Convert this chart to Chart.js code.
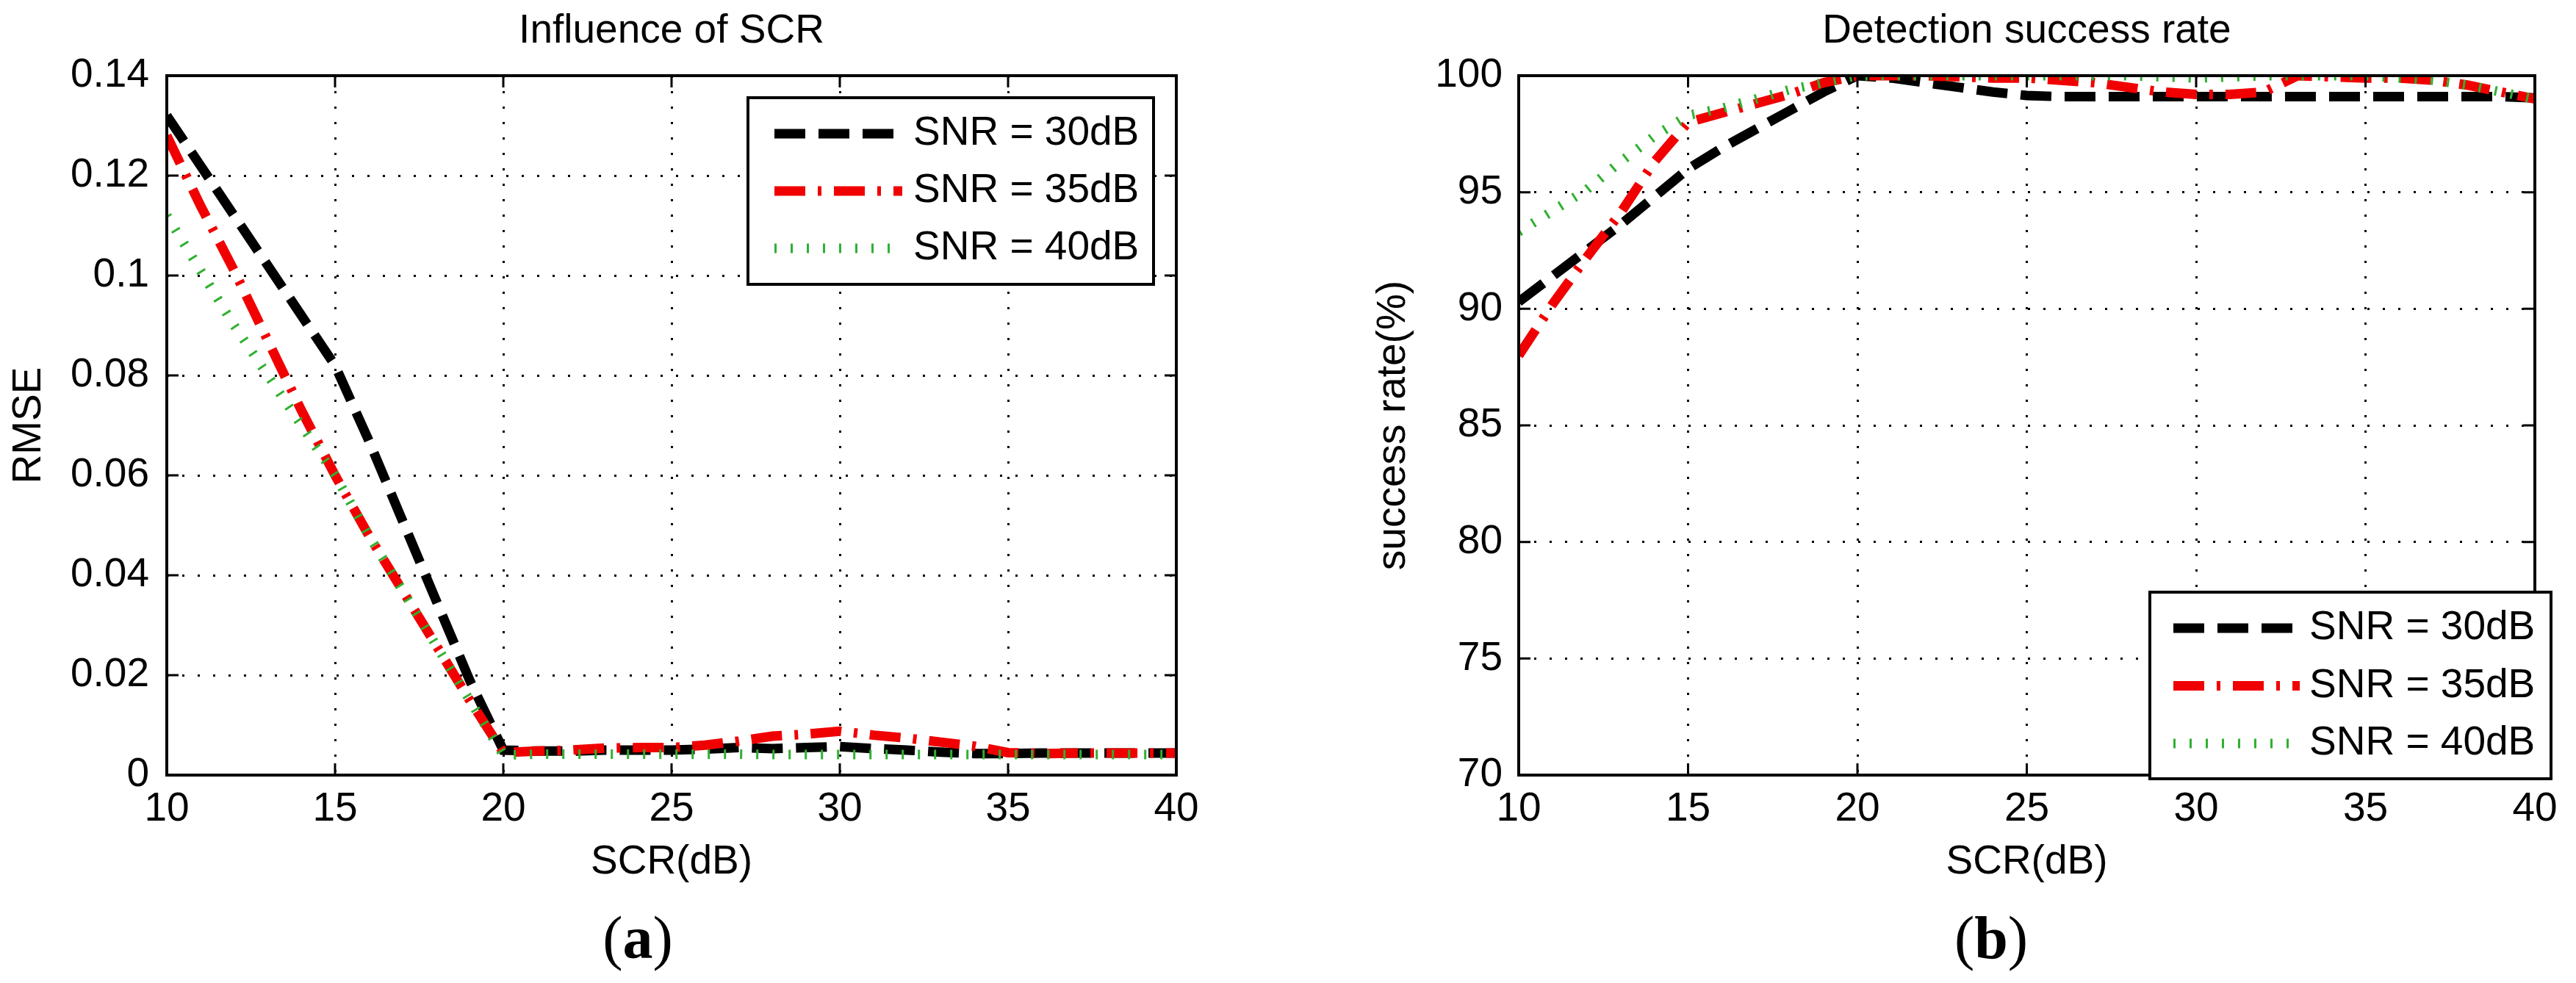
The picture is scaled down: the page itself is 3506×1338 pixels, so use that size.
<!DOCTYPE html>
<html>
<head>
<meta charset="utf-8">
<script src="https://cdn.jsdelivr.net/npm/chart.js@4.4.1/dist/chart.umd.min.js"></script>
<style>
html,body{margin:0;padding:0;background:#fff;}
#wrap{position:relative;width:3506px;height:1338px;overflow:hidden;background:#fff;}
canvas{position:absolute;top:0;}
#cA{left:0;}
#cB{left:1753px;}
.cap{position:absolute;top:1236px;font-family:"Liberation Serif","Times New Roman",serif;font-size:82px;line-height:1;transform:translateX(-50%);color:#000;white-space:nowrap;}
</style>
</head>
<body>
<div id="wrap">
<canvas id="cA" width="1753" height="1338"></canvas>
<canvas id="cB" width="1753" height="1338"></canvas>
<div class="cap" style="left:868px;">(<b>a</b>)</div>
<div class="cap" style="left:2710px;">(<b>b</b>)</div>
</div>
<script>
// ---------- data ----------
const scr = [10,11,12,13,14,15,16,17,18,19,20,21,22,23,24,25,26,27,28,29,30,31,32,33,34,35,36,37,38,39,40];
const seriesLabels = ['SNR = 30dB','SNR = 35dB','SNR = 40dB'];

const rmse30 = [0.132,0.122,0.112,0.102,0.092,0.082,0.067,0.051,0.035,0.019,0.005,
  0.0048,0.0048,0.0050,0.0050,0.0050,0.0052,0.0055,0.0053,0.0055,0.0057,0.0053,0.0050,0.0046,0.0043,0.0043,0.0044,0.0044,0.0044,0.0044,0.0044];
const rmse35 = [0.128,0.114,0.101,0.087,0.073,0.060,0.048,0.037,0.026,0.015,0.0045,
  0.0048,0.0050,0.0054,0.0055,0.0055,0.0060,0.0068,0.0078,0.0082,0.0088,0.0080,0.0074,0.0066,0.0058,0.0045,0.0043,0.0044,0.0044,0.0044,0.0044];
const rmse40 = [0.112,0.101,0.090,0.080,0.070,0.060,0.048,0.037,0.026,0.015,0.004,
  0.0042,0.0042,0.0042,0.0042,0.0042,0.0042,0.0042,0.0041,0.0041,0.0041,0.0041,0.0041,0.0041,0.0041,0.0041,0.0041,0.0041,0.0041,0.0041,0.0041];

const rate30 = [90.3,91.4,92.5,93.6,94.8,96.0,96.9,97.7,98.5,99.3,100,
  99.9,99.7,99.5,99.3,99.15,99.1,99.1,99.1,99.1,99.1,99.1,99.1,99.1,99.1,99.1,99.1,99.1,99.1,99.1,99.05];
const rate35 = [88.0,90.2,92.2,94.1,96.3,98.0,98.4,98.8,99.2,99.7,100,
  100,100,99.95,99.9,99.9,99.8,99.7,99.5,99.3,99.2,99.2,99.3,100,99.95,99.9,99.9,99.8,99.6,99.3,99.0];
const rate40 = [93.3,94.2,95.1,96.3,97.4,98.3,98.6,99.0,99.4,99.7,100,
  100,100,100,100,100,100,100,100,99.95,99.9,99.95,100,100,100,100,99.9,99.8,99.6,99.3,99.0];

const xTickLabels = ['10','15','20','25','30','35','40'];
const rmseTickLabels = ['0','0.02','0.04','0.06','0.08','0.1','0.12','0.14'];
const rateTickLabels = ['70','75','80','85','90','95','100'];

// ---------- styling ----------
const FONT = '"Liberation Sans", Arial, Helvetica, sans-serif';
const FS = 55;
Chart.defaults.font.family = FONT;
Chart.defaults.font.size = FS;
Chart.defaults.color = '#000';

const seriesStyle = [
  {color:'#000000', dash:[42,18], width:13, order:2},
  {color:'#f00000', dash:[42,17,5,17], width:13, order:1},
  {color:'#30b030', dash:[3,19], width:13, order:0}
];

function pts(ys){ return scr.map((x,i)=>({x:x, y:ys[i]})); }

function makeDatasets(list){
  return list.map((ys,i)=>({
    label: seriesLabels[i],
    data: pts(ys),
    borderColor: seriesStyle[i].color,
    backgroundColor: seriesStyle[i].color,
    borderDash: seriesStyle[i].dash,
    borderWidth: seriesStyle[i].width,
    borderCapStyle: 'butt',
    borderJoinStyle: 'miter',
    pointRadius: 0,
    pointHoverRadius: 0,
    tension: 0,
    fill: false,
    clip: 0,
    order: seriesStyle[i].order
  }));
}

const frameTicks = {
  id:'frameTicks',
  afterDatasetsDraw(chart, args, o){
    const ctx = chart.ctx, a = chart.chartArea, x = chart.scales.x, y = chart.scales.y;
    ctx.save();
    ctx.strokeStyle = '#000';
    ctx.setLineDash([]);
    ctx.lineWidth = o.tickWidth;
    ctx.beginPath();
    x.ticks.forEach(t=>{
      const px = x.getPixelForValue(t.value);
      ctx.moveTo(px, a.bottom); ctx.lineTo(px, a.bottom - o.len);
      ctx.moveTo(px, a.top); ctx.lineTo(px, a.top + o.len);
    });
    y.ticks.forEach(t=>{
      const py = y.getPixelForValue(t.value);
      ctx.moveTo(a.left, py); ctx.lineTo(a.left + o.len, py);
      ctx.moveTo(a.right, py); ctx.lineTo(a.right - o.len, py);
    });
    ctx.stroke();
    ctx.lineWidth = o.frameWidth;
    ctx.strokeRect(a.left, a.top, a.right - a.left, a.bottom - a.top);
    ctx.restore();
  }
};

const boxLegend = {
  id:'boxLegend',
  afterDraw(chart, args, o){
    const ctx = chart.ctx;
    ctx.save();
    ctx.setLineDash([]);
    ctx.fillStyle = '#fff';
    ctx.fillRect(o.left, o.top, o.width, o.height);
    ctx.lineWidth = o.border;
    ctx.strokeStyle = '#000';
    ctx.strokeRect(o.left, o.top, o.width, o.height);
    ctx.font = FS + 'px ' + FONT;
    ctx.textBaseline = 'middle';
    ctx.textAlign = 'left';
    chart.data.datasets.forEach((ds,i)=>{
      const cy = o.top + o.firstRow + i*o.rowGap;
      ctx.save();
      ctx.beginPath();
      ctx.strokeStyle = ds.borderColor;
      ctx.lineWidth = ds.borderWidth;
      ctx.lineCap = 'butt';
      ctx.setLineDash(ds.borderDash || []);
      ctx.moveTo(o.left + o.lineStart, cy);
      ctx.lineTo(o.left + o.lineEnd, cy);
      ctx.stroke();
      ctx.restore();
      ctx.fillStyle = '#000';
      ctx.fillText(ds.label, o.left + o.textStart, cy);
    });
    ctx.restore();
  }
};

function makeChart(id, cfg){
  return new Chart(document.getElementById(id), {
    type:'line',
    data:{ datasets: makeDatasets(cfg.series) },
    plugins:[frameTicks, boxLegend],
    options:{
      responsive:false,
      devicePixelRatio:1,
      animation:false,
      events:[],
      layout:{ padding:{ left:0, top:0, right:cfg.padRight, bottom:131 } },
      plugins:{
        legend:{ display:false },
        tooltip:{ enabled:false },
        title:{ display:true, text:cfg.title, fullSize:false, color:'#000',
                font:{ size:FS, weight:'normal' }, padding:{ top:10, bottom:27 } },
        frameTicks:{ len:16, tickWidth:3, frameWidth:4 },
        boxLegend: cfg.legend
      },
      scales:{
        x:{
          type:'linear', min:10, max:40,
          ticks:{ stepSize:5, padding:14, color:'#000', autoSkip:false, maxRotation:0,
                  callback:(v,i)=>xTickLabels[i] },
          grid:{ color:'#000', lineWidth:3, drawTicks:false },
          border:{ display:false, dash:[3,18] },
          title:{ display:true, text:'SCR(dB)', color:'#000', font:{ size:FS }, padding:{ top:0, bottom:0 } },
          afterFit(s){ s.height = 152; }
        },
        y:{
          type:'linear', min:cfg.yMin, max:cfg.yMax,
          ticks:{ stepSize:cfg.yStep, padding:cfg.yTickPad, color:'#000', autoSkip:false,
                  callback:(v,i)=>cfg.yLabels[i] },
          grid:{ color:'#000', lineWidth:3, drawTicks:false },
          border:{ display:false, dash:[3,18] },
          title:{ display:true, text:cfg.yTitle, color:'#000', font:{ size:FS }, padding:{ top:cfg.yTitlePad, bottom:0 } },
          afterFit(s){ s.width = cfg.yWidth; }
        }
      }
    }
  });
}

makeChart('cA', {
  series:[rmse30, rmse35, rmse40],
  title:'Influence of SCR',
  yTitle:'RMSE',
  yMin:0, yMax:0.14, yStep:0.02, yLabels:rmseTickLabels,
  yWidth:227, yTickPad:24, yTitlePad:7, padRight:152,
  legend:{ left:1018, top:133, width:552, height:254, border:4,
           firstRow:49, rowGap:78, lineStart:36, lineEnd:210, textStart:225 }
});

makeChart('cB', {
  series:[rate30, rate35, rate40],
  title:'Detection success rate',
  yTitle:'success rate(%)',
  yMin:70, yMax:100, yStep:5, yLabels:rateTickLabels,
  yWidth:314, yTickPad:22, yTitlePad:111, padRight:56,
  legend:{ left:1173, top:806, width:546, height:254, border:4,
           firstRow:49, rowGap:78.5, lineStart:32, lineEnd:204, textStart:217 }
});
</script>
</body>
</html>
